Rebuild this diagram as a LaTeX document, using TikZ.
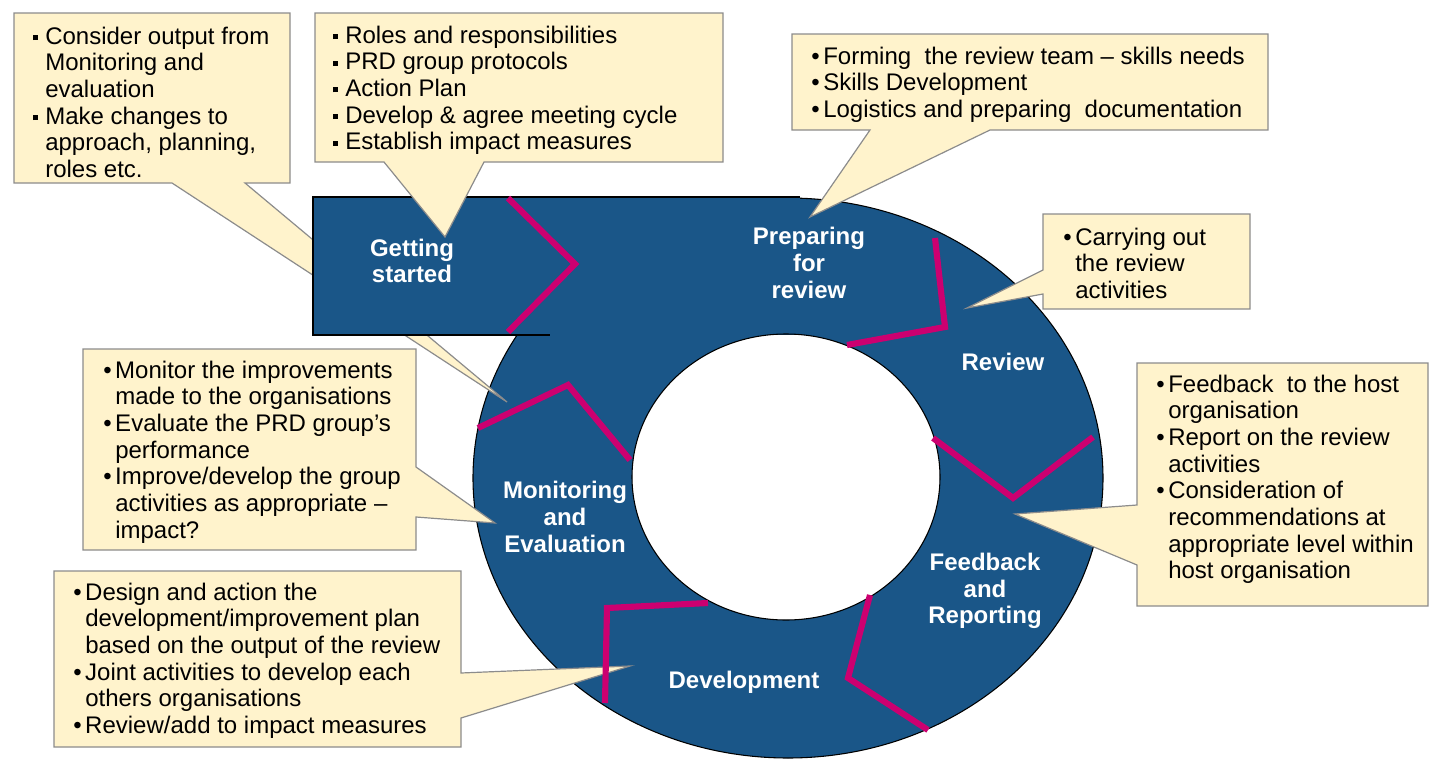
\documentclass[tikz,border=0pt]{standalone}
\usepackage{fontspec}
\setmainfont{Liberation Sans}

\definecolor{ringblue}{RGB}{26,86,136}
\definecolor{chev}{RGB}{204,0,112}
\definecolor{notefill}{RGB}{255,243,204}
\definecolor{noteedge}{RGB}{140,140,140}

% bullet column width and bullet marks
\newlength\bw \setlength\bw{9pt}
\newcommand\rb{\makebox[\bw][l]{•}}
\newcommand\sqb{\makebox[\bw][l]{\rule[2.9pt]{3.8pt}{3.8pt}}}
\newcommand\cont{\hspace*{\bw}}
\newcommand\notelines[1]{\begin{tabular}[t]{@{}l@{}}#1\end{tabular}}

\tikzset{
  note/.style={fill=notefill, draw=noteedge, line width=0.9pt, line join=miter},
  notetext/.style={anchor=base west, inner sep=0pt, font=\fontsize{18}{20}\selectfont},
  stage/.style={text=white, align=center, inner sep=0pt, font=\fontsize{18}{20}\selectfont\bfseries},
  chevron/.style={draw=chev, line width=4.6pt},
  outline/.style={draw=black, line width=0.8pt}
}

\begin{document}
\begin{tikzpicture}[x=0.75pt,y=-0.75pt]
\useasboundingbox (0,0) rectangle (1429,760);

% the cycle ring
\fill[ringblue, even odd rule]
  (788,478) ellipse [x radius=236.25pt, y radius=210pt]
  (786,477) ellipse [x radius=115.5pt, y radius=107.25pt];
\draw[outline] (788,478) ellipse [x radius=236.25pt, y radius=210pt];

% note 1 (its pointer runs under the start banner)
\draw[note] (14,13) -- (290,13) -- (290,183) -- (245,183) -- (507,402)
  -- (172,183) -- (14,183) -- cycle;

% start banner
\fill[ringblue] (313,197) rectangle (800,335);
\draw[outline] (800,197) -- (313,197) -- (313,335) -- (550,335);
\draw[outline] (786,477) ellipse [x radius=115.5pt, y radius=107.25pt];

% notes with their pointers
\draw[note] (315,13) -- (723,13) -- (723,162) -- (484,162) -- (445,237)
  -- (384,162) -- (315,162) -- cycle;
\draw[note] (792,34) -- (1268,34) -- (1268,130) -- (990,130) -- (810,217)
  -- (870,130) -- (792,130) -- cycle;
\draw[note] (1043,214) -- (1250,214) -- (1250,309) -- (1043,309) -- (1043,294)
  -- (967,308) -- (1043,270) -- cycle;
\draw[note] (1137,363) -- (1428,363) -- (1428,606) -- (1137,606) -- (1137,565)
  -- (1015,514) -- (1137,505) -- cycle;
\draw[note] (83,349) -- (416,349) -- (416,467) -- (495,523) -- (416,517)
  -- (416,550) -- (83,550) -- cycle;
\draw[note] (54,571) -- (461,571) -- (461,673) -- (630,666) -- (461,718)
  -- (461,747) -- (54,747) -- cycle;

% note texts
\node[notetext] (t1) at (33,44) {\notelines{%
  \sqb Consider output from\\ \cont Monitoring and\\ \cont evaluation\\
  \sqb Make changes to\\ \cont approach, planning,\\ \cont roles etc.}};
\node[notetext] (t2) at (333,43) {\notelines{%
  \sqb Roles and responsibilities\\ \sqb PRD group protocols\\ \sqb Action Plan\\
  \sqb Develop \& agree meeting cycle\\ \sqb Establish impact measures}};
\node[notetext] (t3) at (811,64) {\notelines{%
  \rb Forming\ \ the review team – skills needs\\ \rb Skills Development\\
  \rb Logistics and preparing\ \ documentation}};
\node[notetext] (t4) at (1063,245) {\notelines{%
  \rb Carrying out\\ \cont the review\\ \cont activities}};
\node[notetext] (t5) at (1156,392) {\notelines{%
  \rb Feedback\ \ to the host\\ \cont organisation\\ \rb Report on the review\\
  \cont activities\\ \rb Consideration of\\ \cont recommendations at\\
  \cont appropriate level within\\ \cont host organisation}};
\node[notetext] (t6) at (103,378) {\notelines{%
  \rb Monitor the improvements\\ \cont made to the organisations\\
  \rb Evaluate the PRD group’s\\ \cont performance\\
  \rb Improve/develop the group\\ \cont activities as appropriate –\\ \cont impact?}};
\node[notetext] (t7) at (73,600) {\notelines{%
  \rb Design and action the\\ \cont development/improvement plan\\
  \cont based on the output of the review\\ \rb Joint activities to develop each\\
  \cont others organisations\\ \rb Review/add to impact measures}};

% stage labels
\node[stage] (s1) at (412,261) {Getting\\started};
\node[stage] (s2) at (809,263) {Preparing\\for\\review};
\node[stage] (s3) at (1003,362) {Review};
\node[stage] (s4) at (985,591) {Feedback\\and\\Reporting};
\node[stage] (s5) at (744,682) {Development};
\node[stage] (s6) at (565,517) {Monitoring\\and\\Evaluation};

% stage dividers
\draw[chevron] (508,198) -- (575,264) -- (508,332);
\draw[chevron] (935,238) -- (945,327) -- (847,345);
\draw[chevron] (933,438) -- (1013,498) -- (1093,437);
\draw[chevron] (870,595) -- (848,678) -- (928,730);
\draw[chevron] (708,603) -- (607,608) -- (605,703);
\draw[chevron] (478,428) -- (568,385) -- (630,460);
\end{tikzpicture}
\end{document}
